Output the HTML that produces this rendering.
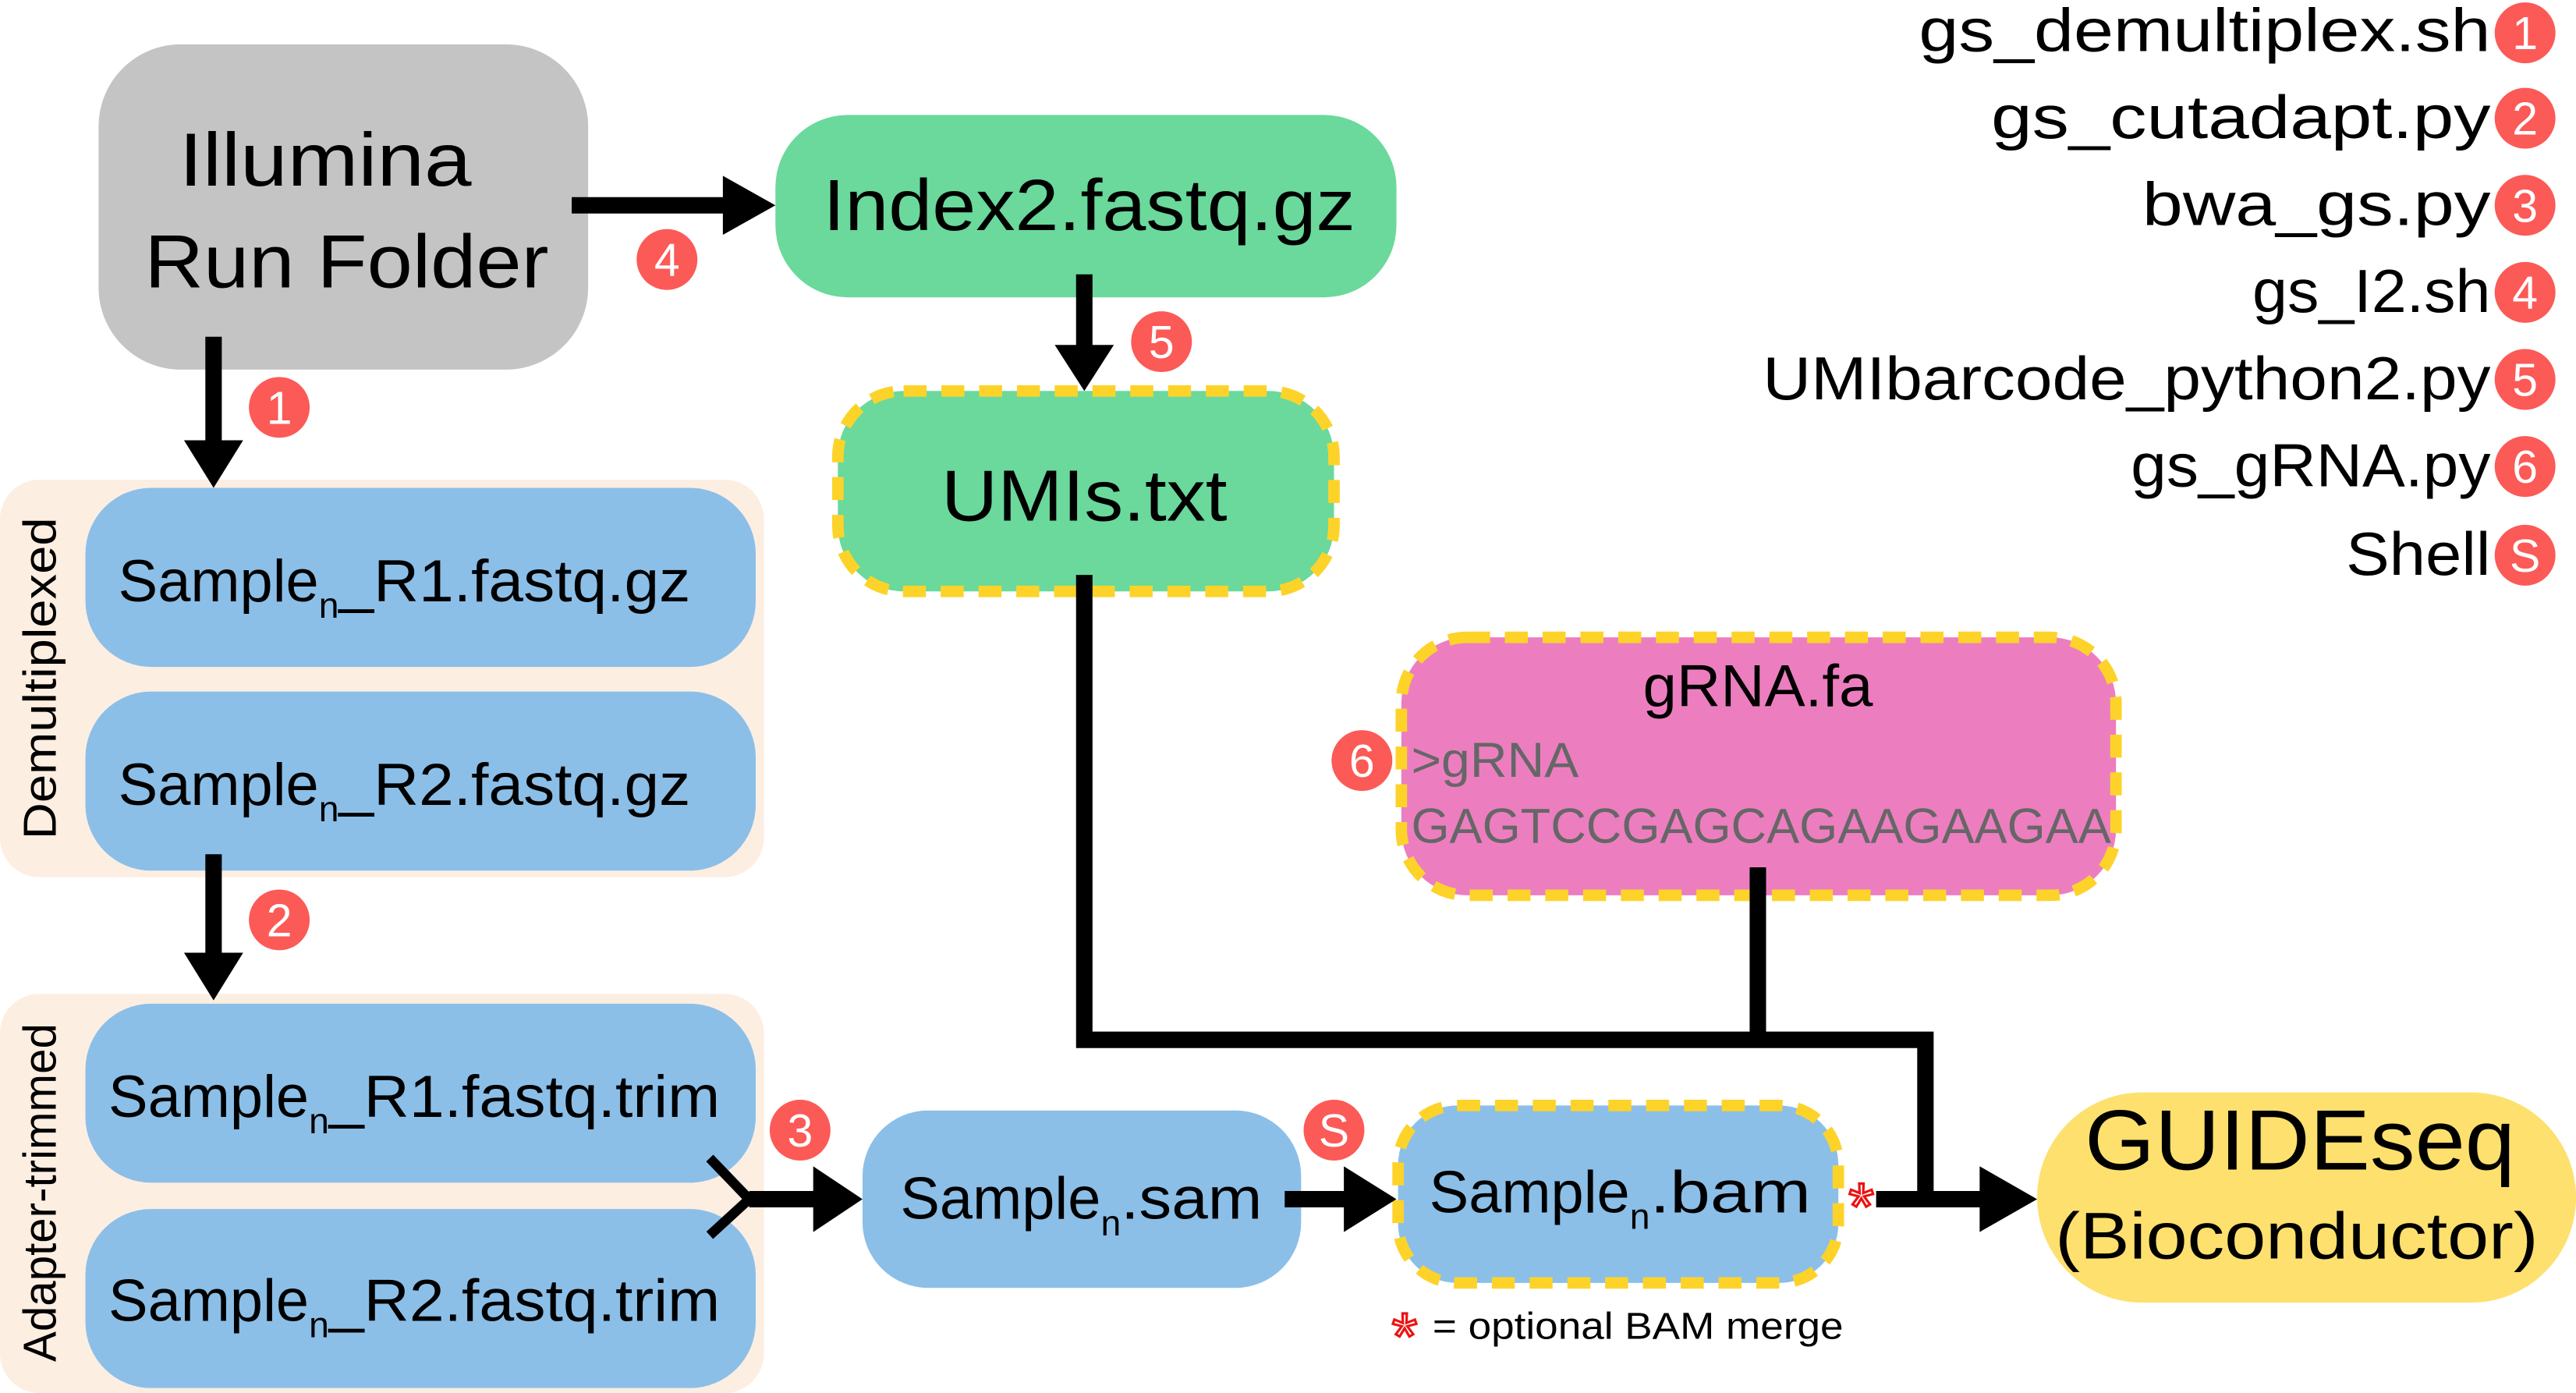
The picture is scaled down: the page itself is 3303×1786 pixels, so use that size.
<!DOCTYPE html>
<html><head><meta charset="utf-8"><style>html,body{margin:0;padding:0;background:#fff}svg{display:block}</style></head>
<body>
<svg width="3303" height="1786" viewBox="0 0 1568 848" preserveAspectRatio="none" xmlns="http://www.w3.org/2000/svg" font-family="'Liberation Sans', sans-serif">
<defs>
<g id="b"><circle r="18.5" fill="#fb5a57"/></g>
</defs>
<!-- panels -->
<rect x="0" y="292" width="465" height="242" rx="24" fill="#fdeee2"/>
<rect x="0" y="605" width="465" height="243" rx="24" fill="#fdeee2"/>
<text transform="translate(34,413) rotate(-90)" text-anchor="middle" font-size="28" textLength="196" lengthAdjust="spacingAndGlyphs">Demultiplexed</text>
<text transform="translate(34,726) rotate(-90)" text-anchor="middle" font-size="28" textLength="206" lengthAdjust="spacingAndGlyphs">Adapter-trimmed</text>

<!-- Illumina -->
<rect x="60" y="27" width="298" height="198" rx="50" fill="#c4c4c4"/>
<text x="198" y="113" text-anchor="middle" font-size="46" textLength="178" lengthAdjust="spacingAndGlyphs">Illumina</text>
<text x="211" y="175" text-anchor="middle" font-size="46" textLength="246" lengthAdjust="spacingAndGlyphs">Run Folder</text>

<!-- Index2 -->
<rect x="472" y="70" width="378" height="111" rx="44" fill="#6ad99b"/>
<text x="663" y="140" text-anchor="middle" font-size="44" textLength="324" lengthAdjust="spacingAndGlyphs">Index2.fastq.gz</text>

<!-- UMIs -->
<rect x="510" y="238" width="302" height="122" rx="40" fill="#6ad99b" stroke="#fdd32a" stroke-width="7" stroke-dasharray="14 9"/>
<text x="660" y="317" text-anchor="middle" font-size="44" textLength="174" lengthAdjust="spacingAndGlyphs">UMIs.txt</text>

<!-- gRNA -->
<rect x="853" y="388" width="435" height="157" rx="40" fill="#ec7ec0" stroke="#fdd32a" stroke-width="7" stroke-dasharray="14 9"/>
<text x="1070" y="430" text-anchor="middle" font-size="36" textLength="140" lengthAdjust="spacingAndGlyphs">gRNA.fa</text>
<text x="859" y="473" font-size="30" fill="#666" textLength="102" lengthAdjust="spacingAndGlyphs">&gt;gRNA</text>
<text x="859" y="513" font-size="30" fill="#666" textLength="426" lengthAdjust="spacingAndGlyphs">GAGTCCGAGCAGAAGAAGAA</text>

<!-- blue boxes -->
<rect x="52" y="297" width="408" height="109" rx="40" fill="#8bbfe8"/>
<rect x="52" y="421" width="408" height="109" rx="40" fill="#8bbfe8"/>
<rect x="52" y="611" width="408" height="109" rx="40" fill="#8bbfe8"/>
<rect x="52" y="736" width="408" height="109" rx="40" fill="#8bbfe8"/>
<text x="72" y="366" font-size="36">Sample<tspan font-size="22" dy="10">n</tspan><tspan dy="-10" textLength="214" lengthAdjust="spacingAndGlyphs">_R1.fastq.gz</tspan></text>
<text x="72" y="490" font-size="36">Sample<tspan font-size="22" dy="10">n</tspan><tspan dy="-10" textLength="214" lengthAdjust="spacingAndGlyphs">_R2.fastq.gz</tspan></text>
<text x="66" y="680" font-size="36">Sample<tspan font-size="22" dy="10">n</tspan><tspan dy="-10" textLength="238" lengthAdjust="spacingAndGlyphs">_R1.fastq.trim</tspan></text>
<text x="66" y="804" font-size="36">Sample<tspan font-size="22" dy="10">n</tspan><tspan dy="-10" textLength="238" lengthAdjust="spacingAndGlyphs">_R2.fastq.trim</tspan></text>

<rect x="525" y="676" width="267" height="108" rx="40" fill="#8bbfe8"/>
<text x="548" y="742" font-size="36">Sample<tspan font-size="22" dy="10">n</tspan><tspan dy="-10" textLength="86" lengthAdjust="spacingAndGlyphs">.sam</tspan></text>

<rect x="851" y="673" width="268" height="108" rx="36" fill="#8bbfe8" stroke="#fdd32a" stroke-width="7" stroke-dasharray="14 9"/>
<text x="870" y="738" font-size="36">Sample<tspan font-size="22" dy="10">n</tspan><tspan dy="-10" textLength="98" lengthAdjust="spacingAndGlyphs">.bam</tspan></text>

<!-- GUIDEseq -->
<rect x="1240" y="665" width="328" height="128" rx="64" fill="#fde06e"/>
<text x="1400" y="712" text-anchor="middle" font-size="52" textLength="262" lengthAdjust="spacingAndGlyphs">GUIDEseq</text>
<text x="1398" y="766" text-anchor="middle" font-size="40" textLength="294" lengthAdjust="spacingAndGlyphs">(Bioconductor)</text>

<!-- connectors -->
<g stroke="#000" stroke-width="10" fill="none">
<line x1="348" y1="125" x2="445" y2="125"/>
<line x1="660" y1="167" x2="660" y2="212"/>
<line x1="130" y1="205" x2="130" y2="270"/>
<line x1="130" y1="520" x2="130" y2="582"/>
<polyline points="660,350 660,633 1172,633 1172,730"/>
<line x1="1070" y1="528" x2="1070" y2="633"/>
<line x1="1142" y1="730" x2="1212" y2="730"/>
<line x1="456" y1="730" x2="500" y2="730"/>
<line x1="782" y1="730" x2="824" y2="730"/>
</g>
<polyline points="432,705 456,730 432,752" stroke="#000" stroke-width="6" fill="none"/>
<g fill="#000">
<polygon points="440,107 472,125 440,143"/>
<polygon points="642,210 678,210 660,238"/>
<polygon points="112,268 148,268 130,297"/>
<polygon points="112,580 148,580 130,609"/>
<polygon points="495,710 525,730 495,750"/>
<polygon points="818,710 850,730 818,750"/>
<polygon points="1205,710 1240,730 1205,750"/>
</g>

<!-- asterisks -->
<text x="1133" y="748" text-anchor="middle" font-size="40" fill="#fff" stroke="#e11" stroke-width="1.5">*</text>
<text x="855" y="827" text-anchor="middle" font-size="40" fill="#fff" stroke="#e11" stroke-width="1.5">*</text>
<text x="872" y="815" font-size="23" textLength="250" lengthAdjust="spacingAndGlyphs">= optional BAM merge</text>

<!-- badges -->
<g font-size="28" fill="#fff" text-anchor="middle">
<use href="#b" x="406" y="158"/><text x="406" y="168">4</text>
<use href="#b" x="707" y="208"/><text x="707" y="218">5</text>
<use href="#b" x="170" y="248"/><text x="170" y="258">1</text>
<use href="#b" x="170" y="560"/><text x="170" y="570">2</text>
<use href="#b" x="487" y="688"/><text x="487" y="698">3</text>
<use href="#b" x="812" y="688"/><text x="812" y="698">S</text>
<use href="#b" x="829" y="463"/><text x="829" y="473">6</text>
<use href="#b" x="1537" y="20"/><text x="1537" y="30">1</text>
<use href="#b" x="1537" y="72"/><text x="1537" y="82">2</text>
<use href="#b" x="1537" y="125"/><text x="1537" y="135">3</text>
<use href="#b" x="1537" y="178"/><text x="1537" y="188">4</text>
<use href="#b" x="1537" y="231"/><text x="1537" y="241">5</text>
<use href="#b" x="1537" y="284"/><text x="1537" y="294">6</text>
<use href="#b" x="1537" y="338"/><text x="1537" y="348">S</text>
</g>

<!-- legend -->
<g font-size="37" text-anchor="end" lengthAdjust="spacingAndGlyphs">
<text x="1516" y="31" textLength="348" lengthAdjust="spacingAndGlyphs">gs_demultiplex.sh</text>
<text x="1516" y="84" textLength="304" lengthAdjust="spacingAndGlyphs">gs_cutadapt.py</text>
<text x="1516" y="137" textLength="212" lengthAdjust="spacingAndGlyphs">bwa_gs.py</text>
<text x="1516" y="190" textLength="145" lengthAdjust="spacingAndGlyphs">gs_I2.sh</text>
<text x="1516" y="243" textLength="443" lengthAdjust="spacingAndGlyphs">UMIbarcode_python2.py</text>
<text x="1516" y="296" textLength="219" lengthAdjust="spacingAndGlyphs">gs_gRNA.py</text>
<text x="1516" y="350" textLength="88" lengthAdjust="spacingAndGlyphs">Shell</text>
</g>
</svg>
</body></html>
